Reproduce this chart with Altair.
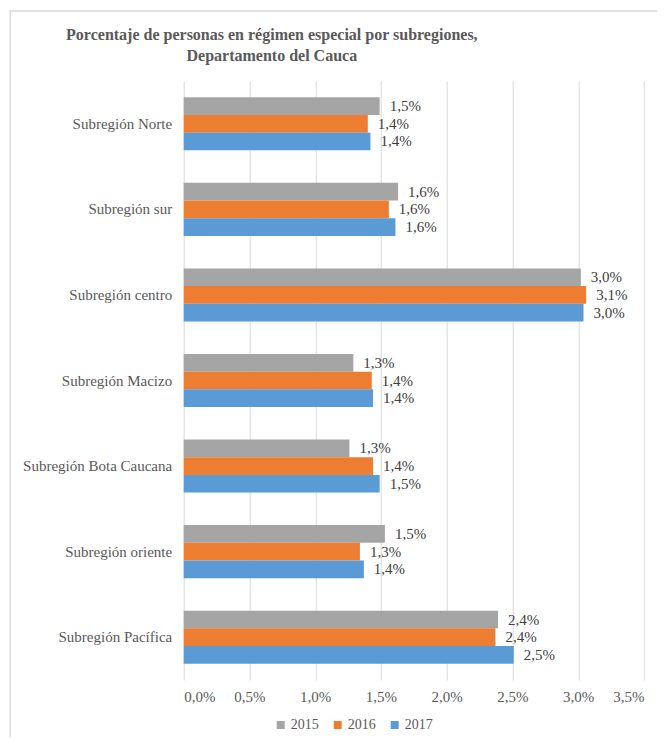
import altair as alt
import pandas as pd

regions = ["Subregión Norte", "Subregión sur", "Subregión centro", "Subregión Macizo",
           "Subregión Bota Caucana", "Subregión oriente", "Subregión Pacífica"]
years = ["2015", "2016", "2017"]
v2015 = [1.49, 1.63, 3.02, 1.29, 1.26, 1.53, 2.39]
v2016 = [1.40, 1.56, 3.06, 1.43, 1.44, 1.34, 2.37]
v2017 = [1.42, 1.61, 3.04, 1.44, 1.49, 1.37, 2.51]
colors = ["#A5A5A5", "#ED7D31", "#5B9BD5"]
x_ticks = [0, 0.5, 1.0, 1.5, 2.0, 2.5, 3.0, 3.5]

rows = []
for y, vals in zip(years, [v2015, v2016, v2017]):
    for r, v in zip(regions, vals):
        rows.append({"region": r, "year": y, "value": v})
df = pd.DataFrame(rows)

FONT = "'Liberation Serif', 'Times New Roman', Times, 'DejaVu Serif', serif"
GREY = "#595959"

y_enc = alt.Y("region:N", sort=regions, title=None,
              scale=alt.Scale(paddingInner=0.38, paddingOuter=0.19),
              axis=alt.Axis(labelFont=FONT, labelFontSize=15, labelColor=GREY,
                            ticks=False, domain=False, labelPadding=12, grid=False))
yoff = alt.YOffset("year:N", sort=years, scale=alt.Scale(paddingInner=0, paddingOuter=0))

bars = alt.Chart(df).mark_bar().encode(
    x=alt.X("value:Q", title=None,
            scale=alt.Scale(domain=[0, 3.5], nice=False),
            axis=alt.Axis(values=x_ticks, labelExpr="replace(format(datum.value, '.1f'), '.', ',') + '%'",
                          labelFont=FONT, labelFontSize=15, labelColor=GREY,
                          ticks=False, domain=False, labelPadding=9,
                          grid=True, gridColor="#D9D9D9", gridWidth=1)),
    y=y_enc,
    yOffset=yoff,
    color=alt.Color("year:N", sort=years, title=None,
                    scale=alt.Scale(domain=years, range=colors),
                    legend=alt.Legend(orient="none", legendX=90, legendY=637,
                                      direction="horizontal", columns=3,
                                      symbolType="square", symbolSize=64, symbolStrokeWidth=0,
                                      labelFont=FONT, labelFontSize=14, labelColor=GREY,
                                      labelOffset=3, columnPadding=12, padding=0)),
)

labels = alt.Chart(df).transform_calculate(
    lab="replace(format(datum.value, '.1f'), '.', ',') + '%'"
).mark_text(align="left", baseline="middle", dx=10, font=FONT, fontSize=15, color="#404040").encode(
    x=alt.X("value:Q"),
    y=alt.Y("region:N", sort=regions),
    yOffset=yoff,
    text="lab:N",
)

frame = alt.Chart(pd.DataFrame({"a": [0]})).mark_rect(
    fillOpacity=0, stroke="#D9D9D9", strokeWidth=1.5
).encode(
    x=alt.value(-173.5), x2=alt.value(700), y=alt.value(-70), y2=alt.value(800)
)

chart = alt.layer(frame, bars, labels).properties(
    width=460.3, height=599,
    autosize=alt.AutoSizeParams(type="none"),
    padding={"left": 175.7, "top": 73, "right": 13, "bottom": 57},
    title=alt.Title(
        text=["Porcentaje de personas en régimen especial por subregiones,",
              "Departamento del Cauca"],
        font=FONT, fontSize=16, fontWeight="bold", color=GREY,
        anchor="middle", frame="group", dx=-142, offset=-54, lineHeight=21,
    ),
).configure_view(stroke=None)

chart.save("out.html", embed_options={"renderer": "svg", "actions": False})
